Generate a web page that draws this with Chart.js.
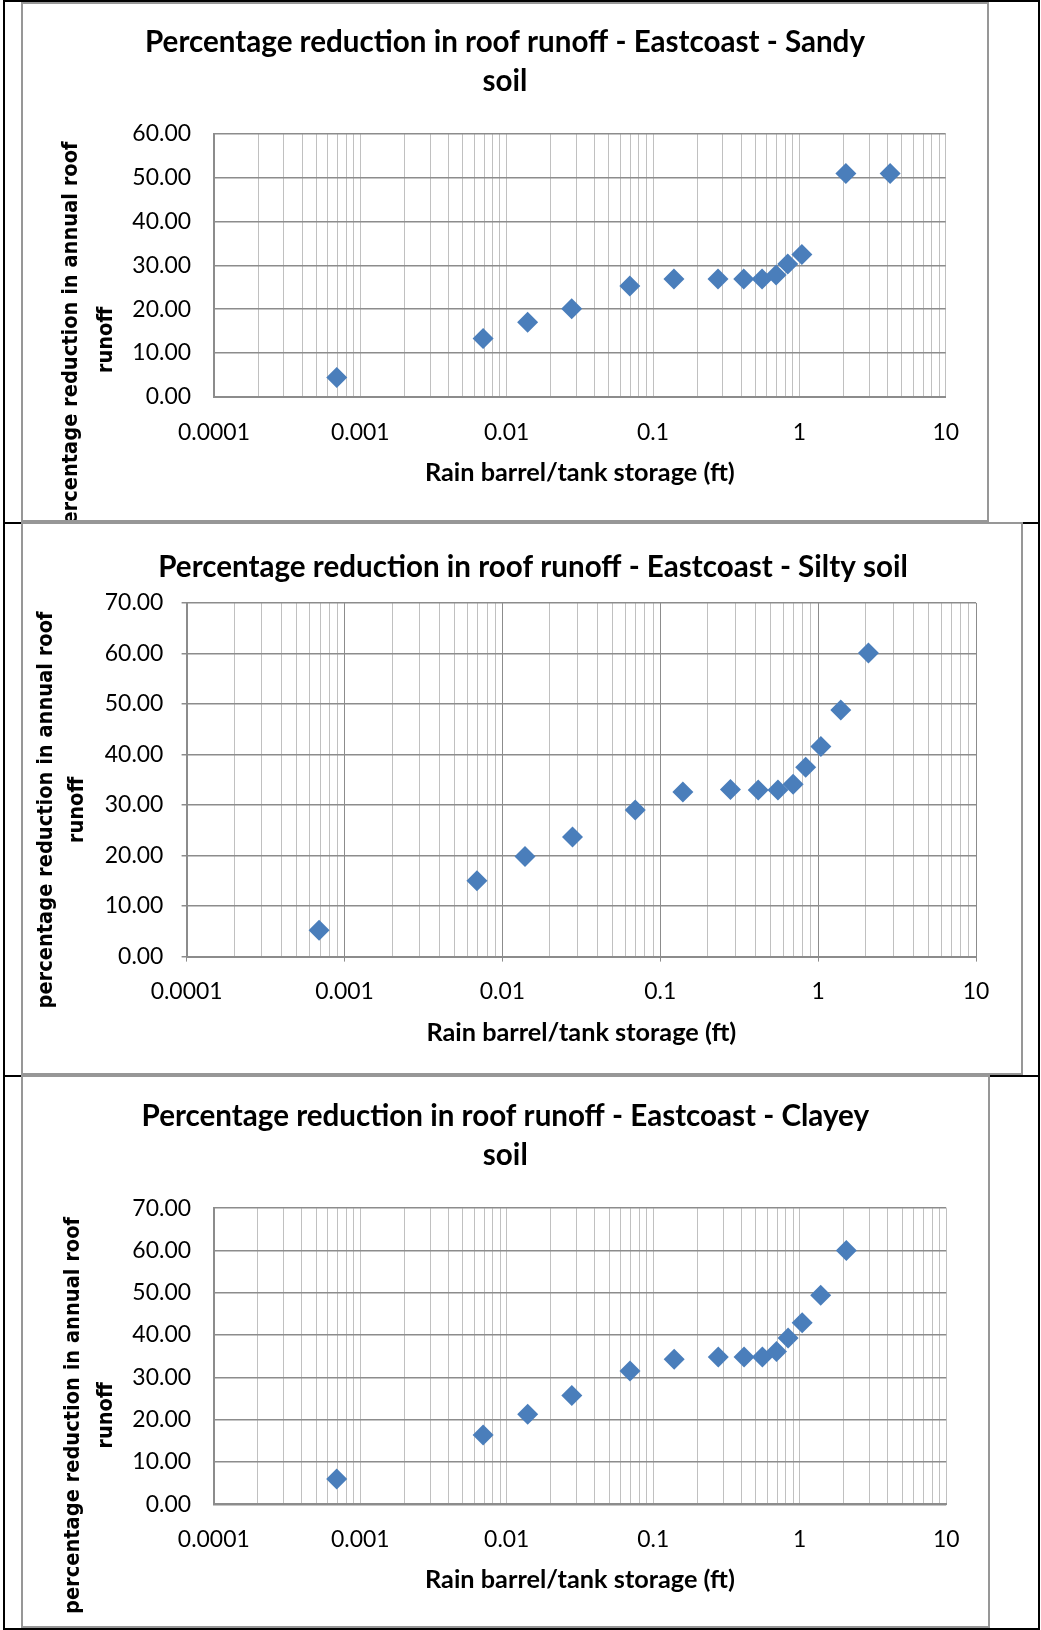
<!DOCTYPE html>
<html>
<head>
<meta charset="utf-8">
<title>Percentage reduction in roof runoff - Eastcoast</title>
<script src="https://cdn.jsdelivr.net/npm/chart.js@4.4.1/dist/chart.umd.min.js"></script>
<style>
  body { margin: 0; background: #fff; }
  #page { position: relative; width: 1041px; height: 1630px; overflow: hidden; }
  .rule { position: absolute; background: #000; }
  .frame { position: absolute; box-sizing: border-box; border: 2px solid #979797; background: #fff; }
  .frame canvas { position: absolute; left: 0; top: 0; }
</style>
</head>
<body>
<div id="page">
  <div class="rule" style="left:3px;top:522px;width:1037px;height:2px"></div>
  <div class="rule" style="left:3px;top:1075px;width:1037px;height:2px"></div>
  <div class="frame" style="left:21px;top:2px;width:968px;height:520px"><canvas id="sandyChart" width="964" height="516"></canvas></div>
  <div class="frame" style="left:21px;top:522px;width:1002px;height:553px"><canvas id="siltyChart" width="998" height="549"></canvas></div>
  <div class="frame" style="left:21px;top:1075px;width:969px;height:553px"><canvas id="clayeyChart" width="965" height="549"></canvas></div>
  <div class="rule" style="left:3px;top:0;width:1037px;height:2px"></div>
  <div class="rule" style="left:3px;top:0;width:2px;height:1630px"></div>
  <div class="rule" style="left:1038px;top:0;width:2px;height:1630px"></div>
  <div class="rule" style="left:3px;top:1628px;width:1037px;height:2px"></div>
</div>
<script>
// values
const decadeLabels = ['0.0001', '0.001', '0.01', '0.1', '1', '10'];
const minorSteps = [1, 2, 3, 4, 5, 6, 7, 8, 9];

const sandyStorage = [0.00069, 0.0069, 0.0139, 0.0278, 0.0694, 0.139, 0.278, 0.417, 0.556, 0.694, 0.833, 1.04, 2.08, 4.17];
const sandyReduction = [4.4, 13.3, 17.0, 20.1, 25.3, 26.9, 26.9, 26.9, 26.9, 27.8, 30.3, 32.5, 51.0, 51.0];

const storage = [0.00069, 0.0069, 0.0139, 0.0278, 0.0694, 0.139, 0.278, 0.417, 0.556, 0.694, 0.833, 1.04, 1.39, 2.08];
const siltyReduction = [5.2, 15.0, 19.8, 23.7, 29.0, 32.6, 33.1, 33.0, 33.0, 34.1, 37.5, 41.6, 48.8, 60.1];
const clayeyReduction = [6.0, 16.4, 21.3, 25.7, 31.5, 34.3, 34.8, 34.8, 34.8, 36.1, 39.3, 42.9, 49.4, 60.0];

const yTitle = ['percentage reduction in annual roof', 'runoff'];
const xTitle = 'Rain barrel/tank storage (ft)';

// font sizes fitted to the widths measured on the reference
const meas = document.createElement('canvas').getContext('2d');
function fitSize(text, weight, family, width) {
    meas.font = weight + ' 100px ' + family;
    return 100 * width / meas.measureText(text).width;
}
const tickSize = fitSize('0.0001', 'normal', 'Lato', 72);
const xTitleSize = fitSize(xTitle, 'bold', 'Lato', 310);
const titleSize = fitSize('Percentage reduction in roof runoff - Eastcoast - Silty soil', 'bold', 'Lato', 750);
// y title: a wide bold face, squeezed along the text to the measured length
const yTitleFont = 'bold 21.5px "DejaVu Sans", Verdana, sans-serif';
meas.font = yTitleFont;
const yTitleSqueeze = 397 / meas.measureText(yTitle[0]).width;

function logTicks() {
    const ticks = [];
    decadeLabels.forEach((lbl, i) => {
        const base = parseFloat(lbl);
        const steps = i === decadeLabels.length - 1 ? [1] : minorSteps;
        steps.forEach(m => ticks.push({ value: base * m, major: m === 1, label: m === 1 ? lbl : '' }));
    });
    return ticks;
}

// draws the chart title and the two-line rotated y title
const textLayer = {
    id: 'textLayer',
    afterDraw(chart, args, o) {
        const ctx = chart.ctx;
        ctx.save();
        ctx.fillStyle = '#000';
        ctx.textAlign = 'center';
        ctx.textBaseline = 'alphabetic';
        ctx.font = 'bold ' + titleSize + 'px Lato';
        o.title.forEach((line, i) => ctx.fillText(line, o.titleX, o.titleY[i]));
        ctx.font = yTitleFont;
        ctx.textBaseline = 'middle';
        yTitle.forEach((line, i) => {
            ctx.save();
            ctx.translate(o.yTitleX[i], o.yTitleY);
            ctx.rotate(-Math.PI / 2);
            ctx.scale(yTitleSqueeze, 1);
            ctx.fillText(line, 0, 0);
            ctx.restore();
        });
        ctx.restore();
    }
};

function makeChart(id, xs, ys, title, L) {
    const tl = L.marks ? 5 : 0;
    const tickFont = { family: 'Lato', size: tickSize, lineHeight: 1.2 };
    const xTitleFont = { family: 'Lato', size: xTitleSize, weight: 'bold', lineHeight: 1.2 };
    return new Chart(document.getElementById(id), {
        type: 'scatter',
        data: {
            datasets: [{
                data: xs.map((x, i) => ({ x: x, y: ys[i] })),
                pointStyle: 'rectRot',
                pointRadius: 10.5,
                backgroundColor: '#4a7ebb',
                borderColor: '#4a7ebb',
                borderWidth: 0
            }]
        },
        options: {
            responsive: false,
            animation: false,
            devicePixelRatio: 1,
            layout: { autoPadding: false, padding: { left: 0, top: L.padTop, right: L.padRight, bottom: 0 } },
            plugins: {
                legend: { display: false },
                tooltip: { enabled: false },
                textLayer: { title: title, titleX: L.titleX, titleY: L.titleY, yTitleX: L.yTitleX, yTitleY: L.yTitleY }
            },
            scales: {
                x: {
                    type: 'logarithmic',
                    min: 0.0001,
                    max: 10,
                    afterBuildTicks: scale => { scale.ticks = logTicks(); },
                    afterFit: scale => { scale.height = L.xAxisH; },
                    ticks: {
                        autoSkip: false, maxRotation: 0, minRotation: 0, color: '#000', font: tickFont,
                        padding: L.xLabelGap - tl - tickSize * 0.6,
                        callback: (v, i, ticks) => ticks[i].label
                    },
                    grid: {
                        color: c => (L.marks && c.tick && c.tick.major) ? '#8c8c8c' : '#c0c0c0',
                        lineWidth: 1,
                        drawTicks: L.marks,
                        tickLength: 5,
                        tickColor: c => (c.tick && c.tick.major) ? '#8c8c8c' : 'rgba(0,0,0,0)'
                    },
                    border: { color: '#8c8c8c', width: 2 },
                    title: {
                        display: true, text: xTitle, color: '#000', font: xTitleFont,
                        padding: { top: 0, bottom: L.xTitleGap - xTitleSize * 0.6 }
                    }
                },
                y: {
                    min: 0,
                    max: L.yMax,
                    afterFit: scale => { scale.width = L.plotLeft; },
                    ticks: {
                        stepSize: 10, color: '#000', font: tickFont,
                        padding: L.yLabelGap - tl,
                        callback: v => v.toFixed(2)
                    },
                    grid: { color: '#8c8c8c', lineWidth: 1.5, drawTicks: L.marks, tickLength: 5, tickColor: '#8c8c8c' },
                    border: { color: '#8c8c8c', width: 2 }
                }
            }
        },
        plugins: [textLayer]
    });
}

makeChart('sandyChart', sandyStorage, sandyReduction,
    ['Percentage reduction in roof runoff - Eastcoast - Sandy', 'soil'],
    { yMax: 60, plotLeft: 191, padRight: 41.3, padTop: 130, xAxisH: 123.3, marks: false,
      yLabelGap: 23, xLabelGap: 35.7, xTitleGap: 47,
      titleX: 482, titleY: [48.4, 87], yTitleX: [48.7, 83], yTitleY: 336 });

makeChart('siltyChart', storage, siltyReduction,
    ['Percentage reduction in roof runoff - Eastcoast - Silty soil'],
    { yMax: 70, plotLeft: 163.6, padRight: 44.9, padTop: 79, xAxisH: 116.4, marks: true,
      yLabelGap: 23.2, xLabelGap: 35.2, xTitleGap: 40,
      titleX: 510, titleY: [52.8], yTitleX: [23.5, 54.7], yTitleY: 286 });

makeChart('clayeyChart', storage, clayeyReduction,
    ['Percentage reduction in roof runoff - Eastcoast - Clayey', 'soil'],
    { yMax: 70, plotLeft: 190.8, padRight: 41.8, padTop: 131.2, xAxisH: 121.7, marks: false,
      yLabelGap: 22.8, xLabelGap: 35.3, xTitleGap: 46,
      titleX: 482.3, titleY: [48.8, 87.9], yTitleX: [50, 83], yTitleY: 338.5 });
</script>
</body>
</html>
